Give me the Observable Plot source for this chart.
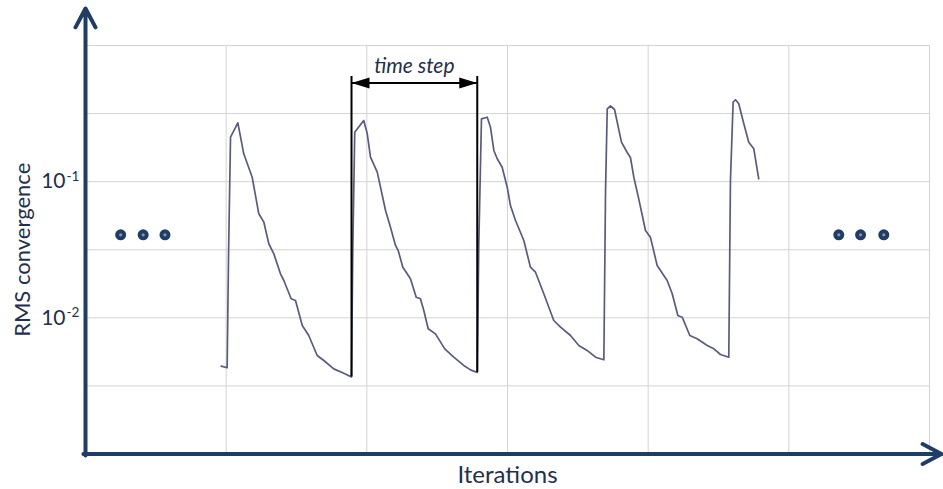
<!DOCTYPE html>
<html><head><meta charset="utf-8">
<script src="https://cdn.jsdelivr.net/npm/d3@7"></script>
<script src="https://cdn.jsdelivr.net/npm/@observablehq/plot@0.6"></script>
<style>html,body{margin:0;padding:0;background:#fff;}</style>
</head><body><div id="chart"></div><script>
// ---- data ----
const iterations = [96.5,100.7,101.7,103.1,108.3,112.5,118.5,123.2,126.8,130.3,133.9,138.6,141.0,146.2,149.3,154.1,158.7,164.7,169.4,176.5,183.6,189.1,
190.0,191.4,197.8,200.3,202.6,207.4,213.3,216.8,220.4,222.3,225.6,228.7,231.0,235.1,238.1,240.5,243.6,248.8,255.4,261.8,268.9,273.7,278.5,
279.6,281.5,285.6,287.9,290.3,292.7,296.2,299.8,302.1,305.7,311.6,316.3,319.9,325.8,332.9,337.7,344.8,350.7,356.6,362.6,368.5,
369.7,370.9,373.2,376.1,381.0,385.1,387.4,389.8,393.3,398.1,401.6,406.4,413.5,417.1,421.1,424.2,429.6,434.8,442.0,446.7,451.4,457.3,
458.5,460.4,462.1,464.4,468.0,471.5,475.1,478.6];
const rms = [0.00442,0.00430,0.0297,0.2122,0.2706,0.1602,0.1078,0.0581,0.0504,0.0350,0.0295,0.02106,0.01880,0.01380,0.01341,0.00879,0.00742,0.00529,0.00486,0.00422,0.00392,0.00368,
0.0312,0.2308,0.2812,0.2247,0.1512,0.1174,0.0614,0.0463,0.0340,0.0312,0.02354,0.02106,0.01935,0.01418,0.01380,0.01132,0.00831,0.00763,0.00592,0.00514,0.00447,0.00415,0.00397,
0.0352,0.2895,0.2974,0.2512,0.1694,0.1472,0.1277,0.0911,0.0668,0.0519,0.0370,0.02354,0.02164,0.01502,0.00956,0.00854,0.00742,0.00626,0.00576,0.00514,0.00492,
0.0861,0.3428,0.3594,0.3388,0.1950,0.1638,0.1505,0.1078,0.0748,0.0438,0.0391,0.02423,0.01880,0.01502,0.01040,0.01011,0.00742,0.00702,0.00626,0.00592,0.00538,0.00514,
0.1020,0.3834,0.3994,0.3730,0.2661,0.1950,0.1743,0.1050];

const gridIter = [100, 200, 300, 400, 500, 600];
const gridRms = [1, 0.3162, 0.1, 0.03162, 0.01, 0.003162];
const yTickValues = [0.1, 0.01];
const yTickBase = ["10", "10"];
const yTickExp = ["-1", "-2"];
const xTitle = "Iterations";
const yTitle = "RMS convergence";

const ellipsisIter = [25, 41, 56.5, 535.5, 551, 567.5];
const ellipsisRms = 0.0407;

const stepIter = [189.1, 278.5];
const stepBottom = [0.00368, 0.00397];
const stepTop = 0.592;
const stepArrowRms = 0.531;
const stepLabel = "time step";
const stepLabelRms = 0.70;

const xDomain = [0, 600];
const yDomain = [0.001, 1];
const axisTipIter = 608.5;
const axisTipRms = 1.87;

// ---- styles ----
const navy = "#1f3d66";
const textColor = "#1f3050";
const font = "Lato, 'Open Sans', sans-serif";

const curve = iterations.map((x, i) => ({x, y: rms[i]}));
const ellipsis = ellipsisIter.map(x => ({x, y: ellipsisRms}));
const stepLines = stepIter.map((x, i) => ({x, y1: stepBottom[i], y2: stepTop}));
const stepHeads = stepIter.map((x, i) => ({x, y: stepArrowRms, rot: i === 0 ? 180 : 0}));
const ticks = yTickValues.map((y, i) => ({y, base: yTickBase[i], exp: yTickExp[i]}));

const headSymbol = {draw(ctx) { ctx.moveTo(0, 0); ctx.lineTo(-18, -5.5); ctx.lineTo(-18, 5.5); ctx.closePath(); }};

const chart = Plot.plot({
  width: 943, height: 489,
  marginLeft: 85, marginRight: 14, marginTop: 45, marginBottom: 35.5,
  style: {fontFamily: font, background: "#fff"},
  x: {domain: xDomain, axis: null},
  y: {type: "log", domain: yDomain, axis: null},
  marks: [
    Plot.ruleY(gridRms, {stroke: "#d3d3d3", strokeWidth: 1}),
    Plot.ruleX(gridIter, {stroke: "#d3d3d3", strokeWidth: 1}),
    Plot.line(curve, {x: "x", y: "y", stroke: "#585c80", strokeWidth: 1.7, strokeLinejoin: "round"}),
    Plot.ruleX(stepLines, {x: "x", y1: "y1", y2: "y2", stroke: "#000", strokeWidth: 2}),
    Plot.ruleY([stepArrowRms], {x1: stepIter[0], x2: stepIter[1], stroke: "#000", strokeWidth: 2}),
    Plot.dot(stepHeads, {x: "x", y: "y", symbol: headSymbol, rotate: "rot", fill: "#000", stroke: "none", r: 5}),
    Plot.text([stepLabel], {x: (stepIter[0] + stepIter[1]) / 2, y: stepLabelRms, text: d => d, fontSize: 21, fontStyle: "italic", fill: textColor, fontFamily: font}),
    Plot.dot(ellipsis, {x: "x", y: "y", r: 5.5, fill: navy, stroke: "none"}),
    Plot.dot(ellipsis, {x: "x", y: "y", r: 1.6, fill: "#8a93a3", stroke: "none"}),
    Plot.arrow([{x1: -1.5, y1: yDomain[0], x2: axisTipIter, y2: yDomain[0]}], {x1: "x1", y1: "y1", x2: "x2", y2: "y2", stroke: navy, strokeWidth: 4, headLength: 8, headAngle: 56}),
    Plot.arrow([{x1: 0, y1: 0.000975, x2: 0, y2: axisTipRms}], {x1: "x1", y1: "y1", x2: "x2", y2: "y2", stroke: navy, strokeWidth: 4, headLength: 8, headAngle: 56}),
    Plot.text(ticks, {x: 0, y: "y", text: "base", dx: -20, textAnchor: "end", fontSize: 21, fill: textColor, fontFamily: font}),
    Plot.text(ticks, {x: 0, y: "y", text: "exp", dx: -19, dy: -5, textAnchor: "start", fontSize: 13.5, fill: textColor, fontFamily: font}),
    Plot.text([xTitle], {x: (xDomain[0] + xDomain[1]) / 2, text: d => d, frameAnchor: "bottom", dy: 29, fontSize: 24, fill: textColor, fontFamily: font}),
    Plot.text([yTitle], {x: 0, y: 0.0316, text: d => d, dx: -63, rotate: -90, fontSize: 22, fill: textColor, fontFamily: font})
  ]
});
document.getElementById("chart").appendChild(chart);
</script></body></html>
